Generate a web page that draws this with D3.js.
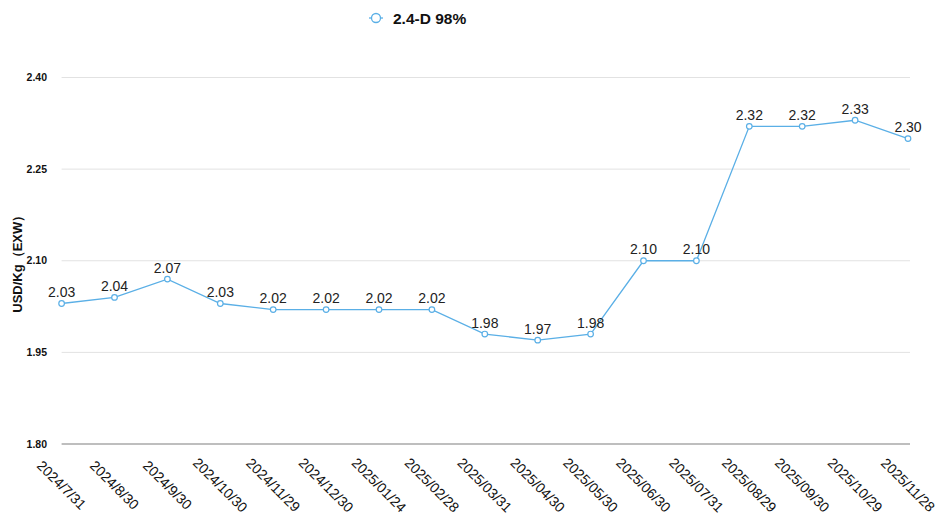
<!DOCTYPE html>
<html>
<head>
<meta charset="utf-8">
<script src="https://cdn.jsdelivr.net/npm/d3@7"></script>
<style>
html,body{margin:0;padding:0;background:#fff;}
svg{display:block;font-family:"Liberation Sans",Arial,Helvetica,sans-serif;}
</style>
</head>
<body>
<svg id="chart" width="946" height="525"></svg>
<script>
const categories = ["2024/7/31","2024/8/30","2024/9/30","2024/10/30","2024/11/29","2024/12/30","2025/01/24","2025/02/28","2025/03/31","2025/04/30","2025/05/30","2025/06/30","2025/07/31","2025/08/29","2025/09/30","2025/10/29","2025/11/28"];
const values = [2.03,2.04,2.07,2.03,2.02,2.02,2.02,2.02,1.98,1.97,1.98,2.10,2.10,2.32,2.32,2.33,2.30];
const yTicks = [1.80,1.95,2.10,2.25,2.40];
const seriesName = "2.4-D 98%";
const yTitle = "USD/Kg（EXW）";

const color = "#5aafe6";
const svg = d3.select("#chart");
const pLeft = 61.6, pRight = 908, pTop = 77.5, pBottom = 444;

const x = d3.scalePoint().domain(categories).range([pLeft, pRight]).padding(0);
const y = d3.scaleLinear().domain([1.80, 2.40]).range([pBottom, pTop]);

// gridlines
svg.append("g").selectAll("line").data(yTicks.filter(t => t !== 1.80)).join("line")
  .attr("x1", pLeft).attr("x2", pRight + 2)
  .attr("y1", d => y(d)).attr("y2", d => y(d))
  .attr("stroke", "#e2e2e2").attr("stroke-width", 1);

// x axis line
svg.append("line").attr("x1", pLeft).attr("x2", pRight + 2)
  .attr("y1", y(1.80)).attr("y2", y(1.80))
  .attr("stroke", "#a8a8a8").attr("stroke-width", 1.3);

// y tick labels
svg.append("g").selectAll("text").data(yTicks).join("text")
  .attr("x", 47).attr("y", d => y(d) + 3.5)
  .attr("text-anchor", "end")
  .attr("font-size", 10.5).attr("font-weight", "bold").attr("fill", "#111")
  .text(d => d.toFixed(2));

// y title
svg.append("text")
  .attr("transform", `translate(22,${(pTop + pBottom) / 2}) rotate(-90)`)
  .attr("text-anchor", "middle")
  .attr("font-size", 13).attr("font-weight", "bold").attr("fill", "#111")
  .text(yTitle);

// x labels
svg.append("g").selectAll("text").data(categories).join("text")
  .attr("transform", d => `translate(${x(d)},${485}) rotate(45)`)
  .attr("text-anchor", "middle").attr("dy", "0.35em")
  .attr("font-size", 14).attr("fill", "#111")
  .text(d => d);

// line
const line = d3.line().x((d, i) => x(categories[i])).y(d => y(d));
svg.append("path").datum(values)
  .attr("d", line).attr("fill", "none")
  .attr("stroke", color).attr("stroke-width", 1.3);

// points
svg.append("g").selectAll("circle").data(values).join("circle")
  .attr("cx", (d, i) => x(categories[i])).attr("cy", d => y(d))
  .attr("r", 2.8).attr("fill", "#fff")
  .attr("stroke", color).attr("stroke-width", 1.2);

// data labels
svg.append("g").selectAll("text").data(values).join("text")
  .attr("x", (d, i) => x(categories[i])).attr("y", d => y(d) - 6.5)
  .attr("text-anchor", "middle")
  .attr("font-size", 14).attr("fill", "#222")
  .text(d => d.toFixed(2));

// legend
const lg = svg.append("g");
lg.append("line").attr("x1", 369).attr("x2", 383).attr("y1", 18).attr("y2", 18)
  .attr("stroke", color).attr("stroke-width", 1.3);
lg.append("circle").attr("cx", 376).attr("cy", 18).attr("r", 4.5)
  .attr("fill", "#fff").attr("stroke", color).attr("stroke-width", 1.3);
lg.append("text").attr("x", 393).attr("y", 24)
  .attr("font-size", 15.5).attr("font-weight", "bold").attr("fill", "#111")
  .text(seriesName);
</script>
</body>
</html>
